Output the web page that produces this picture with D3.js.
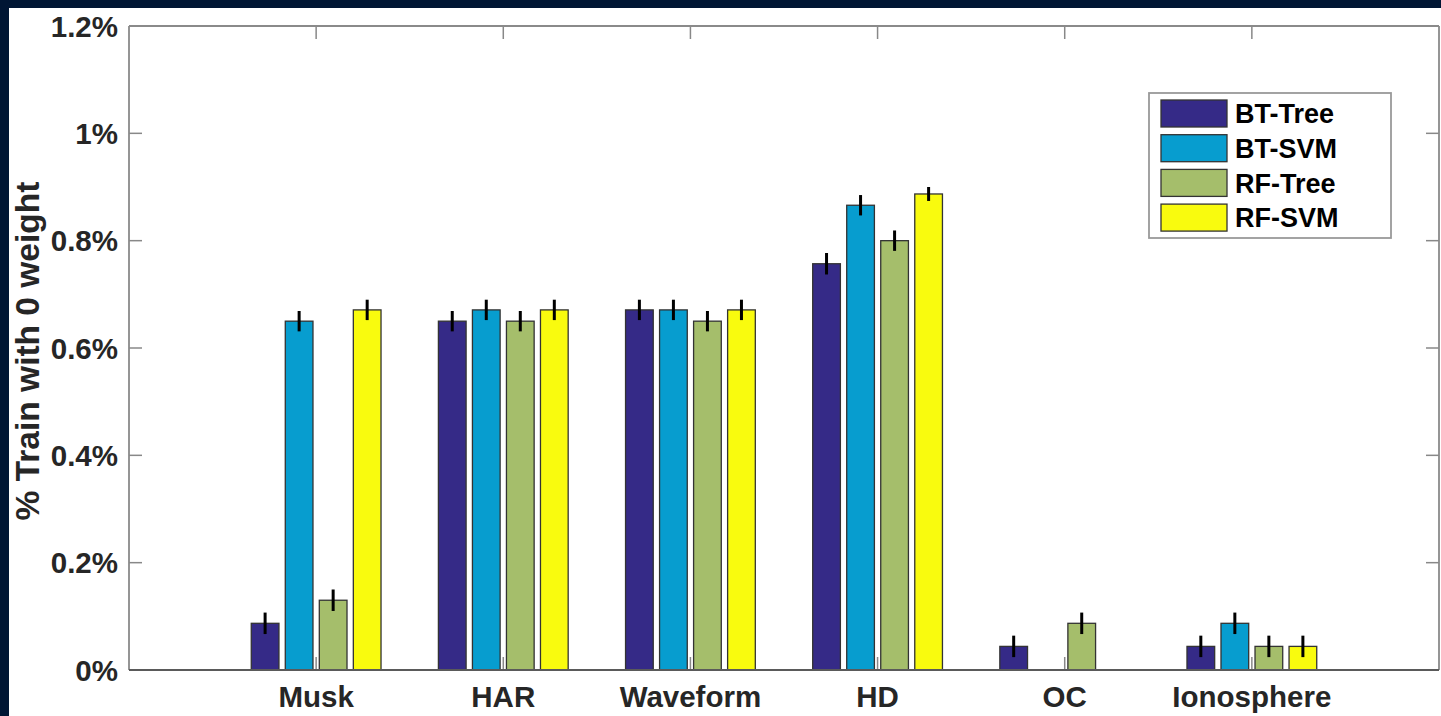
<!DOCTYPE html>
<html>
<head>
<meta charset="utf-8">
<script src="https://cdn.jsdelivr.net/npm/d3@7"></script>
<style>
  html, body { margin: 0; padding: 0; background: #001634; }
  #chart { width: 1441px; height: 716px; }
  text { font-family: "Liberation Sans", Arial, sans-serif; font-weight: bold; }
</style>
</head>
<body>
<div id="chart"></div>
<script>
const categories = ['Musk', 'HAR', 'Waveform', 'HD', 'OC', 'Ionosphere'];
const seriesNames = ['BT-Tree', 'BT-SVM', 'RF-Tree', 'RF-SVM'];
const btTree = [0.087, 0.650, 0.671, 0.757, 0.044, 0.044];
const btSvm  = [0.650, 0.671, 0.671, 0.866, 0.000, 0.087];
const rfTree = [0.130, 0.650, 0.650, 0.800, 0.087, 0.044];
const rfSvm  = [0.671, 0.671, 0.671, 0.887, 0.000, 0.044];
const btTreeErr = [0.020, 0.019, 0.019, 0.020, 0.020, 0.020];
const btSvmErr  = [0.019, 0.019, 0.019, 0.019, 0.000, 0.020];
const rfTreeErr = [0.020, 0.019, 0.019, 0.019, 0.020, 0.020];
const rfSvmErr  = [0.019, 0.019, 0.019, 0.013, 0.000, 0.020];
const yTicks = [0, 0.2, 0.4, 0.6, 0.8, 1.0, 1.2];
const yTickLabels = ['0%', '0.2%', '0.4%', '0.6%', '0.8%', '1%', '1.2%'];
const colors = ['#352a87', '#079dcf', '#a5be6b', '#f9fb0e'];

const values = [btTree, btSvm, rfTree, rfSvm];
const errors = [btTreeErr, btSvmErr, rfTreeErr, rfSvmErr];
const offsets = [-0.2727, -0.0909, 0.0909, 0.2727];
const barW = 0.148;

const W = 1441, H = 716;
const svg = d3.select('#chart').append('svg').attr('width', W).attr('height', H);

// white panel inside the navy frame
svg.append('rect').attr('x', 9).attr('y', 8).attr('width', W - 9).attr('height', H - 8).attr('fill', '#fff');

const x = d3.scaleLinear().domain([0, 7]).range([129, 1439]);
const y = d3.scaleLinear().domain([0, 1.2]).range([670, 26]);

// x ticks (bottom, pointing up; top, pointing down)
const tickLen = 13;
const axisG = svg.append('g');
categories.forEach((c, i) => {
  axisG.append('line').attr('x1', x(i + 1)).attr('x2', x(i + 1))
    .attr('y1', y(0)).attr('y2', y(0) - tickLen).attr('stroke', '#888').attr('stroke-width', 1.5);
  axisG.append('line').attr('x1', x(i + 1)).attr('x2', x(i + 1))
    .attr('y1', y(1.2)).attr('y2', y(1.2) + tickLen).attr('stroke', '#888').attr('stroke-width', 1.5);
});
// y ticks (left and right, inward)
yTicks.forEach(t => {
  axisG.append('line').attr('x1', x(0)).attr('x2', x(0) + tickLen)
    .attr('y1', y(t)).attr('y2', y(t)).attr('stroke', '#888').attr('stroke-width', 1.5);
  axisG.append('line').attr('x1', x(7)).attr('x2', x(7) - tickLen)
    .attr('y1', y(t)).attr('y2', y(t)).attr('stroke', '#888').attr('stroke-width', 1.5);
});

// bars
const barsG = svg.append('g');
values.forEach((vals, s) => {
  vals.forEach((v, i) => {
    const cx = x(i + 1 + offsets[s]);
    const bw = x(barW) - x(0);
    barsG.append('rect')
      .attr('x', cx - bw / 2).attr('y', y(v))
      .attr('width', bw).attr('height', y(0) - y(v))
      .attr('fill', colors[s]).attr('stroke', '#333').attr('stroke-width', 1.3);
  });
});

// error bars
values.forEach((vals, s) => {
  vals.forEach((v, i) => {
    const e = errors[s][i];
    if (!e) return;
    const cx = x(i + 1 + offsets[s]);
    barsG.append('line').attr('x1', cx).attr('x2', cx)
      .attr('y1', y(v - e)).attr('y2', y(v + e))
      .attr('stroke', '#000').attr('stroke-width', 3);
  });
});

// axes box
svg.append('line').attr('x1', x(0)).attr('x2', x(0)).attr('y1', y(0)).attr('y2', y(1.2)).attr('stroke', '#8a8a8a').attr('stroke-width', 1.8);
svg.append('line').attr('x1', x(7)).attr('x2', x(7)).attr('y1', y(0)).attr('y2', y(1.2)).attr('stroke', '#8a8a8a').attr('stroke-width', 1.8);
svg.append('line').attr('x1', x(0)).attr('x2', x(7)).attr('y1', y(1.2)).attr('y2', y(1.2)).attr('stroke', '#8a8a8a').attr('stroke-width', 1.8);
svg.append('line').attr('x1', x(0)).attr('x2', x(7)).attr('y1', y(0)).attr('y2', y(0)).attr('stroke', '#5a5a5a').attr('stroke-width', 2);

// tick labels
yTicks.forEach((t, i) => {
  svg.append('text').attr('x', 118).attr('y', y(t)).attr('dy', '0.36em')
    .attr('text-anchor', 'end').attr('font-size', 29.5).attr('fill', '#262626')
    .text(yTickLabels[i]);
});
categories.forEach((c, i) => {
  svg.append('text').attr('x', x(i + 1)).attr('y', 707)
    .attr('text-anchor', 'middle').attr('font-size', 29.5).attr('fill', '#262626')
    .text(c);
});

// y label
svg.append('text')
  .attr('transform', `translate(39,${y(0.6) + 3}) rotate(-90)`)
  .attr('text-anchor', 'middle').attr('font-size', 33.5).attr('fill', '#262626')
  .text('% Train with 0 weight');

// legend
const lg = svg.append('g').attr('transform', 'translate(1149,93)');
lg.append('rect').attr('width', 242).attr('height', 145).attr('fill', '#fff')
  .attr('stroke', '#999').attr('stroke-width', 1.8);
seriesNames.forEach((n, i) => {
  const row = lg.append('g').attr('transform', `translate(12,${7 + i * 34.7})`);
  row.append('rect').attr('width', 66).attr('height', 27).attr('fill', colors[i])
    .attr('stroke', '#333').attr('stroke-width', 1.3);
  row.append('text').attr('x', 74).attr('y', 13.5).attr('dy', '0.36em')
    .attr('font-size', 27).attr('fill', '#000').text(n);
});
</script>
</body>
</html>
